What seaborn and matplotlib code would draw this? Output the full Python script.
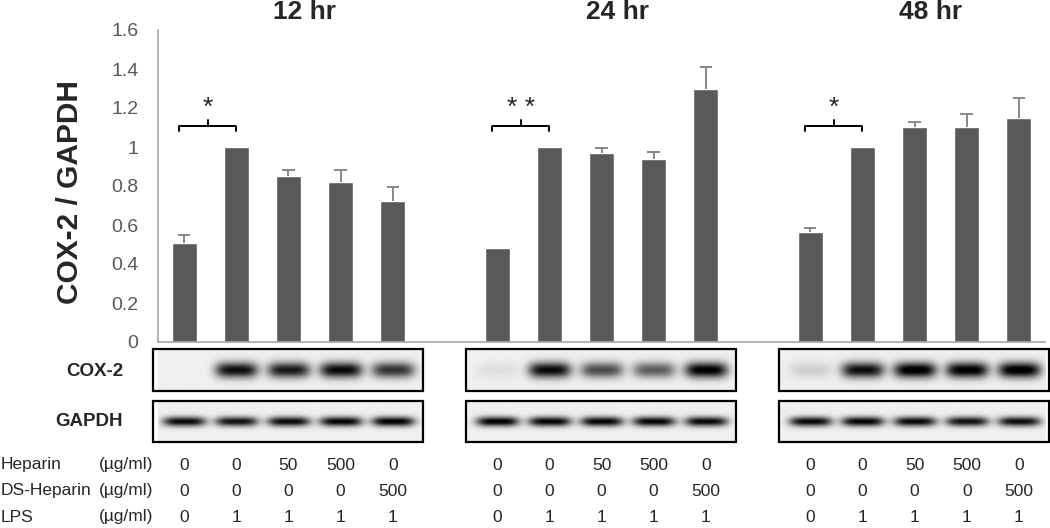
import numpy as np
import pandas as pd
import matplotlib
matplotlib.use("Agg")
import matplotlib.pyplot as plt
from matplotlib.patches import Rectangle
from matplotlib.transforms import blended_transform_factory
import seaborn as sns

# ---- data ----
times = ["12 hr", "24 hr", "48 hr"]
cox_12 = [0.51, 1.0, 0.85, 0.82, 0.725]
cox_24 = [0.48, 1.0, 0.97, 0.94, 1.30]
cox_48 = [0.565, 1.0, 1.10, 1.10, 1.15]
err_12 = [0.04, 0.0, 0.03, 0.06, 0.07]
err_24 = [0.0, 0.0, 0.025, 0.035, 0.11]
err_48 = [0.02, 0.0, 0.03, 0.07, 0.10]
stars = ["*", "* *", "*"]

heparin = ["0", "0", "50", "500", "0"]
ds_heparin = ["0", "0", "0", "0", "500"]
lps = ["0", "1", "1", "1", "1"]

# band darkness (0..1) for the blot strips
band_cox = [[0.0, 0.9, 0.85, 0.92, 0.75],
            [0.07, 0.92, 0.65, 0.58, 0.97],
            [0.13, 0.9, 1.0, 0.98, 1.0]]
band_gapdh = [[0.92, 0.88, 0.92, 0.94, 0.96],
              [0.96, 0.94, 0.94, 0.94, 0.92],
              [0.92, 0.94, 0.92, 0.88, 0.9]]

yticks = [0, 0.2, 0.4, 0.6, 0.8, 1.0, 1.2, 1.4, 1.6]
yticklabels = ["0", "0.2", "0.4", "0.6", "0.8", "1", "1.2", "1.4", "1.6"]

values = [cox_12, cox_24, cox_48]
errors = [err_12, err_24, err_48]
rows = []
for g, (vals, errs) in enumerate(zip(values, errors)):
    for i, (v, e) in enumerate(zip(vals, errs)):
        rows.append({"pos": g * 6 + i, "ratio": v, "err": e, "time": times[g]})
df = pd.DataFrame(rows)

sns.set_style("white")
plt.rcParams["font.family"] = ["Liberation Sans", "DejaVu Sans"]

W, H = 1050, 528
fig = plt.figure(figsize=(10.5, 5.28), dpi=100)

def fy(py):
    return 1 - py / H

ax = fig.add_axes([158 / W, fy(342), 887 / W, 312 / H])
sns.barplot(data=df, x="pos", y="ratio", native_scale=True, width=0.48,
            color="#595959", saturation=1, errorbar=None, ax=ax)
ax.set_xlim(-0.5, 16.5)
ax.set_ylim(0, 1.6)
ax.set_yticks(yticks)
ax.set_yticklabels(yticklabels)
ax.tick_params(axis="y", length=0, pad=14, labelsize=14, labelcolor="#595959")
ax.set_xticks([])
ax.set_xlabel("")
ax.set_ylabel("")
for s in ["top", "right"]:
    ax.spines[s].set_visible(False)
for s in ["left", "bottom"]:
    ax.spines[s].set_color("#a6a6a6")
    ax.spines[s].set_linewidth(1.2)

# one-sided error bars
for _, r in df.iterrows():
    if r["err"] > 0:
        top = r["ratio"] + r["err"]
        ax.vlines(r["pos"], r["ratio"], top, color="#7f7f7f", lw=1.3, zorder=3)
        ax.hlines(top, r["pos"] - 0.12, r["pos"] + 0.12, color="#7f7f7f", lw=1.3, zorder=3)

# significance brackets + titles
for g in range(3):
    x0, x1 = g * 6 - 0.1, g * 6 + 1.0
    xm = (x0 + x1) / 2
    yb = 1.108
    ax.plot([x0, x0, x1, x1], [yb - 0.028, yb, yb, yb - 0.028], color="black", lw=1.4)
    ax.plot([xm, xm], [yb, yb + 0.03], color="black", lw=1.4)
    ax.text(xm, 1.20, stars[g], ha="center", va="center", fontsize=19)
    ax.text(g * 6 + 2.3, 1.69, times[g], ha="center", va="center", fontsize=19,
            fontweight="bold", clip_on=False)

fig.text(70 / W, fy(192), "COX-2 / GAPDH", rotation=90, ha="center", va="center",
         fontsize=21.5, fontweight="bold")

# blot strips
def blot_strip(top_px, bot_px, bands, half_h):
    bax = fig.add_axes([158 / W, fy(bot_px), 887 / W, (bot_px - top_px) / H])
    bax.set_xlim(-0.5, 16.5)
    bax.set_ylim(0, 1)
    bax.axis("off")
    for g in range(3):
        x0, x1 = g * 6 - 0.6, g * 6 + 4.58
        xs = np.linspace(x0, x1, 300)
        ys = np.linspace(0, 1, 50)
        X, Y = np.meshgrid(xs, ys)
        img = np.full_like(X, 0.06)
        for i, v in enumerate(bands[g]):
            cx = g * 6 + i
            prof = np.exp(-((X - cx) / 0.41) ** 4) * np.exp(-((Y - 0.5) / half_h) ** 2)
            img += v * prof
        bax.imshow(np.clip(img, 0, 1), extent=(x0, x1, 0, 1), origin="lower",
                   cmap="gray_r", vmin=0, vmax=1.0, aspect="auto",
                   interpolation="bilinear")
        bax.add_patch(Rectangle((x0, 0), x1 - x0, 1, fill=False, ec="black",
                                lw=1.6, clip_on=False, zorder=4))
    return bax

blot_strip(349, 391, band_cox, 0.19)
blot_strip(401, 442, band_gapdh, 0.12)

fig.text(123 / W, fy(372), "COX-2", ha="right", va="center", fontsize=13.5, fontweight="bold")
fig.text(123 / W, fy(422), "GAPDH", ha="right", va="center", fontsize=13.5, fontweight="bold")

# treatment table
trans = blended_transform_factory(ax.transData, fig.transFigure)
labels = ["Heparin", "DS-Heparin", "LPS"]
row_y = [465, 491, 517]
for lab, py, vals in zip(labels, row_y, [heparin, ds_heparin, lps]):
    fig.text(1 / W, fy(py), lab, ha="left", va="center", fontsize=12.5)
    fig.text(99 / W, fy(py), "(µg/ml)", ha="left", va="center", fontsize=12.5)
    for g in range(3):
        for i, v in enumerate(vals):
            ax.text(g * 6 + i, fy(py), v, transform=trans, ha="center", va="center",
                    fontsize=12.5, clip_on=False)

fig.savefig("out.png", dpi=100)
